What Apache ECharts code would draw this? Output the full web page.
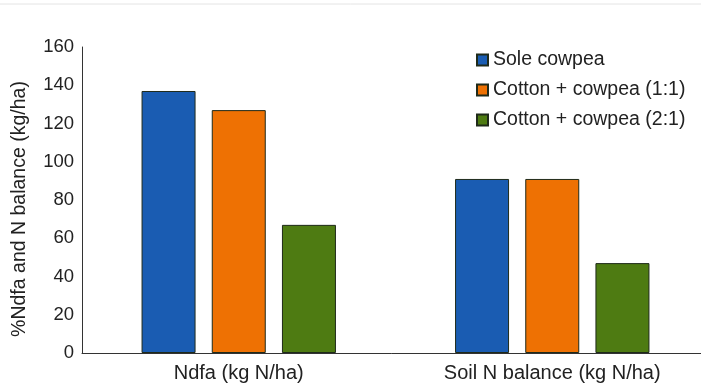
<!DOCTYPE html>
<html>
<head>
<meta charset="utf-8">
<script src="https://cdn.jsdelivr.net/npm/echarts@6/dist/echarts.min.js"></script>
<style>
  html, body { margin: 0; padding: 0; background: #fff; }
  #main { width: 701px; height: 385px; }
</style>
</head>
<body>
<div id="main"></div>
<script>
// data
var categories = ['Ndfa (kg N/ha)', 'Soil N balance (kg N/ha)'];
var soleCowpea = [137, 91];
var cotton11 = [127, 91];
var cotton21 = [67, 47];
var yTicks = [0, 20, 40, 60, 80, 100, 120, 140, 160];

var chart = echarts.init(document.getElementById('main'));
var font = 'Liberation Sans, Arial, sans-serif';

function bar(name, data, color) {
    return {
        name: name,
        type: 'bar',
        data: data,
        barWidth: 54,
        barGap: '30%',
        itemStyle: { color: color, borderColor: '#1f2a1a', borderWidth: 1 }
    };
}

option = {
    animation: false,
    backgroundColor: '#fff',
    graphic: [{
        type: 'line',
        shape: { x1: 0, y1: 4, x2: 701, y2: 4 },
        style: { stroke: '#e4e4e4', lineWidth: 1 }
    }],
    // axis runs a little past the right edge in the source image
    grid: { left: 82, right: -8, top: 47, bottom: 32, outerBoundsMode: 'none', containLabel: false },
    legend: {
        orient: 'vertical',
        left: 471,
        top: 45,
        itemWidth: 11,
        itemHeight: 11,
        itemGap: 10,
        icon: 'rect',
        textStyle: { fontFamily: font, fontSize: 19.5, color: '#222' },
        data: ['Sole cowpea', 'Cotton + cowpea (1:1)', 'Cotton + cowpea (2:1)']
    },
    xAxis: {
        type: 'category',
        data: categories,
        axisLine: { lineStyle: { color: '#333', width: 1 } },
        axisTick: { show: false },
        axisLabel: { fontFamily: font, fontSize: 20, color: '#222', margin: 10 }
    },
    yAxis: {
        type: 'value',
        min: yTicks[0],
        max: yTicks[yTicks.length - 1],
        interval: 20,
        name: '%Ndfa and N balance (kg/ha)',
        nameLocation: 'middle',
        nameGap: 52,
        nameTextStyle: { fontFamily: font, fontSize: 19.5, color: '#222', padding: [0, 18, 0, 0] },
        axisLine: { show: true, lineStyle: { color: '#333', width: 1 } },
        axisTick: { show: false },
        splitLine: { show: false },
        axisLabel: { fontFamily: font, fontSize: 18.5, color: '#222', margin: 8 }
    },
    series: [
        bar('Sole cowpea', soleCowpea, '#1a5cb2'),
        bar('Cotton + cowpea (1:1)', cotton11, '#ee7103'),
        bar('Cotton + cowpea (2:1)', cotton21, '#4e7b12')
    ]
};
chart.setOption(option);
</script>
</body>
</html>
